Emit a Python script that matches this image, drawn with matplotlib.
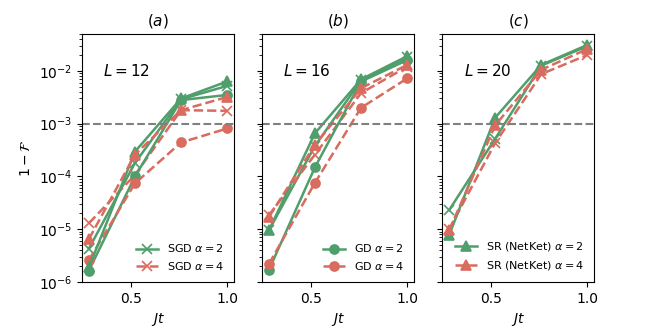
import matplotlib
matplotlib.use("Agg")
import matplotlib.pyplot as plt

# time points
jt = [0.28, 0.52, 0.76, 1.0]

# L = 12
sgd2_L12 = [4.3e-6, 1.8e-4, 2.9e-3, 5.2e-3]
sgd4_L12 = [1.3e-5, 1.07e-4, 1.8e-3, 1.75e-3]
gd2_L12 = [1.65e-6, 1.0e-4, 2.8e-3, 3.5e-3]
gd4_L12 = [2.6e-6, 7.4e-5, 4.4e-4, 8.1e-4]
sr2_L12 = [1.9e-6, 2.95e-4, 3.0e-3, 6.3e-3]
sr4_L12 = [6.5e-6, 2.6e-4, 1.8e-3, 3.2e-3]

# L = 16
sgd2_L16 = [9.5e-6, 3.8e-4, 6.6e-3, 1.8e-2]
sgd4_L16 = [1.85e-5, 2.6e-4, 3.8e-3, 1.2e-2]
gd2_L16 = [1.7e-6, 1.5e-4, 6.3e-3, 1.6e-2]
gd4_L16 = [2.2e-6, 7.6e-5, 2.0e-3, 7.2e-3]
sr2_L16 = [9.5e-6, 6.6e-4, 6.9e-3, 1.9e-2]
sr4_L16 = [1.7e-5, 4.0e-4, 4.7e-3, 1.3e-2]

# L = 20 (no GD)
sgd2_L20 = [2.3e-5, 5.2e-4, 1.26e-2, 2.95e-2]
sgd4_L20 = [1.0e-5, 4.3e-4, 8.7e-3, 2.0e-2]
sr2_L20 = [7.8e-6, 1.3e-3, 1.3e-2, 3.1e-2]
sr4_L20 = [9.5e-6, 9.3e-4, 1.05e-2, 2.6e-2]

panel_titles = ["$(a)$", "$(b)$", "$(c)$"]
sizes = ["$L=12$", "$L=16$", "$L=20$"]
threshold = 1e-3

green = "#4f9e6c"
red = "#d96b5f"

fig = plt.figure(figsize=(6.64, 3.32), dpi=100)
left = [0.1235, 0.3946, 0.666]
axes = [fig.add_axes([l, 0.1506, 0.229, 0.747]) for l in left]

panels = [
    [("SGD", "x", sgd2_L12, sgd4_L12), ("GD", "o", gd2_L12, gd4_L12),
     ("SR (NetKet)", "^", sr2_L12, sr4_L12)],
    [("SGD", "x", sgd2_L16, sgd4_L16), ("GD", "o", gd2_L16, gd4_L16),
     ("SR (NetKet)", "^", sr2_L16, sr4_L16)],
    [("SGD", "x", sgd2_L20, sgd4_L20), ("SR (NetKet)", "^", sr2_L20, sr4_L20)],
]
legend_method = ["SGD", "GD", "SR (NetKet)"]

for i, ax in enumerate(axes):
    for name, mk, v2, v4 in panels[i]:
        show = name == legend_method[i]
        ax.plot(jt, v2, color=green, ls="-", marker=mk, ms=6.5, mew=1.2, lw=1.8,
                label=f"{name} $\\alpha=2$" if show else None)
        ax.plot(jt, v4, color=red, ls="--", marker=mk, ms=6.5, mew=1.2, lw=1.8,
                label=f"{name} $\\alpha=4$" if show else None)
    ax.axhline(threshold, color="gray", ls="--", lw=1.5)
    ax.set_yscale("log")
    ax.set_ylim(1e-6, 5e-2)
    ax.set_xticks([0.5, 1.0])
    ax.set_xlabel("$Jt$", fontsize=10)
    ax.set_title(panel_titles[i], fontsize=11)
    ax.text(0.14, 0.83, sizes[i], transform=ax.transAxes, fontsize=11)
    ax.legend(loc="lower right", frameon=False, fontsize=8, handlelength=2)
    if i > 0:
        ax.tick_params(axis="y", which="both", labelleft=False)

axes[0].set_ylabel("$1-\\mathcal{F}$", fontsize=10)

fig.savefig("out.png", dpi=100)
